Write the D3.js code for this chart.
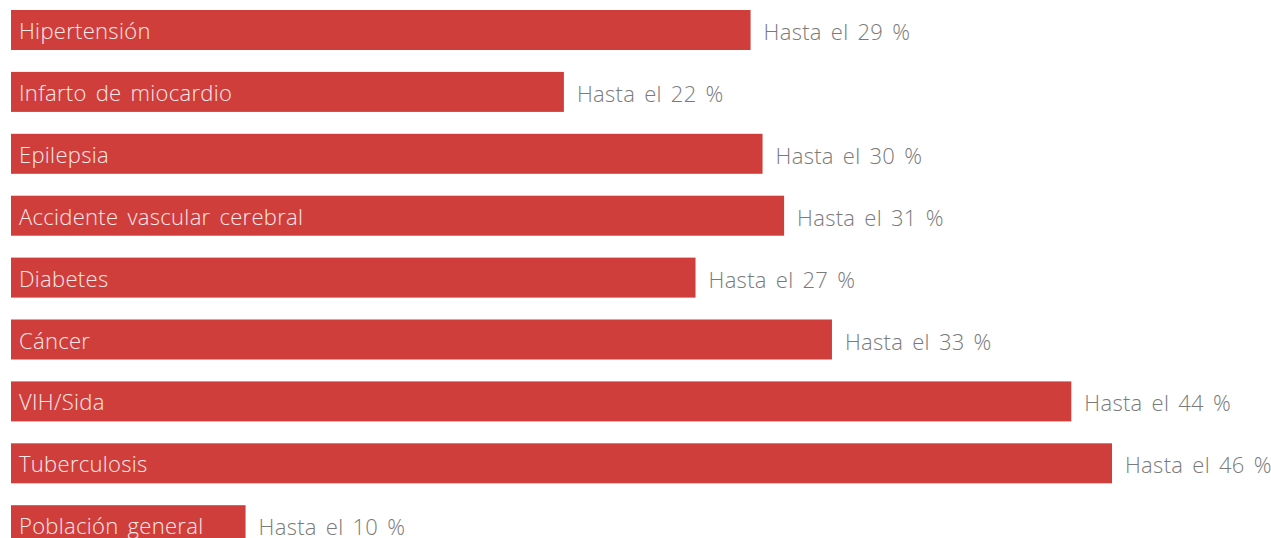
<!DOCTYPE html>
<html>
<head>
<meta charset="utf-8">
<script src="https://cdn.jsdelivr.net/npm/d3@7"></script>
<style>
	body { margin: 0; background: #fff; }
	svg { display: block; }
	text { font-family: 'Open Sans', Roboto, sans-serif; font-weight: 300; font-size: 22px; letter-spacing: 0.3px; word-spacing: 3px; }
</style>
</head>
<body>
<svg id="BarSvg" width="1271" height="538"></svg>
<script>
// categories, label percentages and drawn bar lengths
var Categories = ["Hipertensión","Infarto de miocardio","Epilepsia","Accidente vascular cerebral","Diabetes","Cáncer","VIH/Sida","Tuberculosis","Población general"];
var LabelValues = [29,22,30,31,27,33,44,46,10];
var BarValues = [30.9,23.1,31.4,32.3,28.6,34.3,44.3,46,9.8];

var BarColor = "#d03e3c";

var X = d3.scaleLinear()
	.domain([0, 46])
	.range([11, 1112]);

// step of ~61.9px, bars 40px high
var Y = d3.scaleBand()
	.domain(Categories)
	.range([10, 10 + 61.9 * Categories.length - 21.9])
	.paddingInner(21.9/61.9)
	.paddingOuter(0)
	.align(0);

var Svg = d3.select("#BarSvg");

var Rows = Svg.selectAll("g.row")
	.data(Categories)
	.enter()
	.append("g")
	.attr("class","row")
	.attr("transform", function(d){
		return "translate(0," + Y(d) + ")";
	});

Rows.append("rect")
	.attr("x", X(0))
	.attr("width", function(d,i){
		return X(BarValues[i]) - X(0);
	})
	.attr("height", Y.bandwidth())
	.style("fill", BarColor);

Rows.append("text")
	.attr("x", 19)
	.attr("y", 29)
	.style("fill", "#fbe9e9")
	.text(function(d){ return d; });

Rows.append("text")
	.attr("x", function(d,i){
		return X(BarValues[i]) + 13;
	})
	.attr("y", 30)
	.style("fill", "#7a7a7a")
	.text(function(d,i){ return "Hasta el " + LabelValues[i] + " %"; });
</script>
</body>
</html>
